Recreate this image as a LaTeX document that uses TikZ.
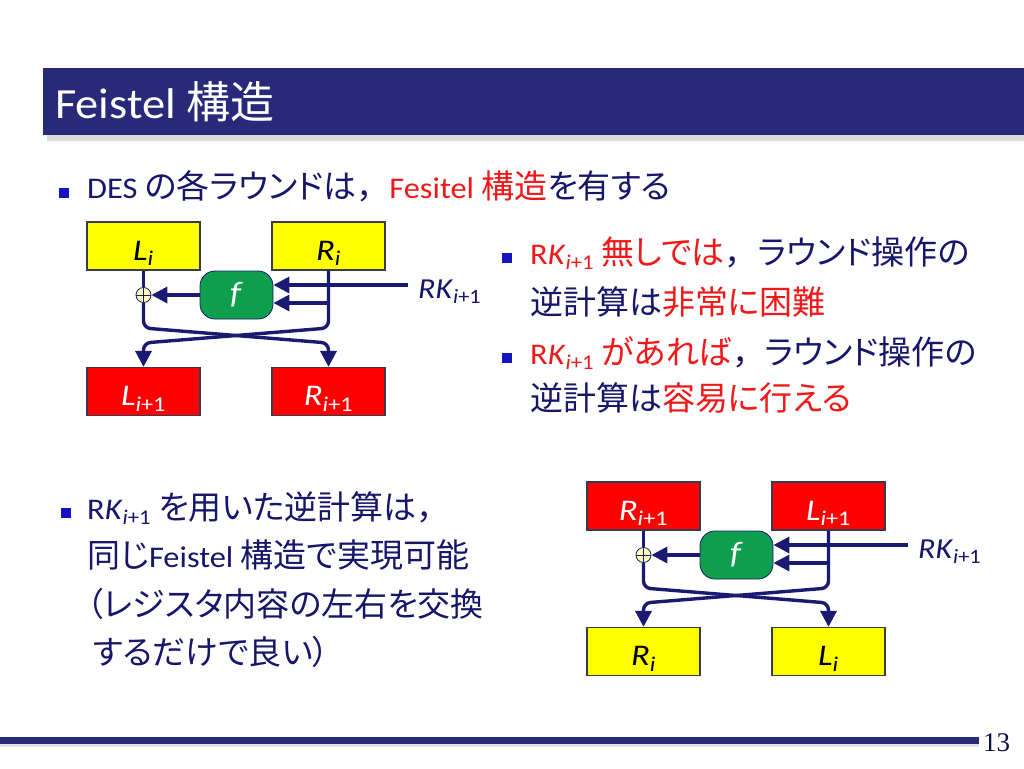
\documentclass[tikz,border=0pt]{standalone}
\usepackage{fontspec}
\setmainfont{Carlito}[FakeStretch=1.08]
\newfontfamily\diagfont{Carlito}[FakeStretch=1.15]
\newfontfamily\rkfont{Carlito}[FakeStretch=1.1]
\newfontfamily\jp{Noto Sans CJK JP}[RawFeature=+palt]
\newfontfamily\jpf{Noto Sans CJK JP}
\newfontfamily\pgnumfont{Liberation Serif}
\usetikzlibrary{arrows.meta}
\definecolor{txtnavy}{HTML}{16166A}
\definecolor{wirenavy}{HTML}{1A1A72}
\definecolor{barnavy}{HTML}{29297A}
\definecolor{tred}{HTML}{F01818}
\definecolor{mblue}{HTML}{1414C0}
\definecolor{boxred}{HTML}{FF0000}
\definecolor{boxyellow}{HTML}{FFFF00}
\definecolor{fgreen}{HTML}{0E9E4E}
\definecolor{xoryellow}{HTML}{FFFFB4}
\definecolor{boxedge}{HTML}{3A3A4A}
\newcommand\jpt[1]{{\jp\fontsize{33}{40}\selectfont #1}}
\newcommand\jcomma{{\jpf\fontsize{33}{40}\selectfont ，}}
\newcommand\bodyfont{\fontsize{30}{36}\selectfont}
\newcommand\rkb{R\textit{K}\textsubscript{\textit{i}+1}}
\tikzset{
  x=1pt, y=-1pt,
  txt/.style={anchor=base west, inner sep=0pt, text=txtnavy, font=\bodyfont},
  marker/.style={fill=mblue, minimum size=10pt, inner sep=0pt},
  box/.style={draw=boxedge, line width=1.2pt, minimum width=113pt, minimum height=48pt,
    inner sep=0pt, text height=28pt, text depth=0pt, font=\diagfont\fontsize{30}{34}\selectfont},
  ybox/.style={box, fill=boxyellow, text=black},
  rbox/.style={box, fill=boxred, text=white},
  fnode/.style={draw=wirenavy, line width=0.8pt, fill=fgreen, rounded corners=15pt,
    minimum width=73pt, minimum height=48pt, inner sep=0pt, text=white,
    font=\diagfont\fontsize{31}{34}\selectfont},
  xorc/.style={circle, draw=wirenavy, line width=0.8pt, fill=xoryellow, minimum size=15pt, inner sep=0pt},
  xline/.style={draw=wirenavy, line width=0.8pt},
  wire/.style={draw=wirenavy, line width=3.4pt, line join=round},
  arr/.style={wire, -{Triangle[length=16pt,width=16pt]}},
  rklabel/.style={anchor=base west, inner sep=0pt, text=txtnavy, font=\rkfont\fontsize{29}{32}\selectfont}
}
% #1 prefix, #2 dx, #3 dy, #4-#7 labels (TL, TR, BL, BR), #8 top style, #9 bottom style
\newcommand\feistelround[9]{%
\begin{scope}[shift={(#2,#3)}]
  \node[#8] (#1tl) at (143.5,246) {#4};
  \node[#8] (#1tr) at (328.5,246) {#5};
  \node[#9] (#1bl) at (143.5,391.5) {#6};
  \node[#9] (#1br) at (328.5,391.5) {#7};
  \node[fnode] (#1f) at (236.5,295) {\textit{f}};
  \node[xorc] (#1x) at (143.5,295) {};
  \draw[xline] (#1x.north) -- (#1x.south) (#1x.west) -- (#1x.east);
  \coordinate (#1a1) at (143.5,328);
  \coordinate (#1a2) at (328.5,343);
  \coordinate (#1b1) at (328.5,328);
  \coordinate (#1b2) at (143.5,343);
  \coordinate (#1r) at (328.5,303);
  \coordinate (#1k) at (408,285);
  \draw[wire] (#1tl) -- (#1x);
  \draw[arr] (#1f) -- (#1x);
  \draw[arr, rounded corners=7pt] (#1x.south) -- (#1a1) -- (#1a2) -- (#1br.north);
  \draw[arr, rounded corners=7pt] (#1tr.south) -- (#1b1) -- (#1b2) -- (#1bl.north);
  \draw[arr] (#1r) -- (#1r -| #1f.east);
  \draw[arr] (#1k) -- (#1k -| #1f.east);
  \node[rklabel] (#1rk) at (418,298) {\textit{RK}\textsubscript{\textit{i}+1}};
\end{scope}}
\begin{document}
\begin{tikzpicture}
\useasboundingbox (0,0) rectangle (1024,768);
\fill[white] (0,0) rectangle (1024,768);
% title bar
\fill[black!14] (47,135) rectangle (1024,141);
\fill[barnavy] (43,68) rectangle (1024,135);
\node[anchor=base west, inner sep=0pt, text=white, font=\fontsize{43}{48}\selectfont]
  (title) at (55,118) {Feistel {\jp\fontsize{44}{50}\selectfont 構造}};
% footer
\fill[black!12] (0,744) rectangle (979,747);
\fill[barnavy] (0,737) rectangle (979,744);
\node[anchor=base west, inner sep=0pt, text=txtnavy!70!black, font=\pgnumfont\fontsize{27}{30}\selectfont]
  (pg) at (983,751) {13};
% bullet 1
\node[marker] (m1) at (64,193) {};
\node[txt] (t1) at (87,198) {DES \jpt{の各ラウンドは}\jcomma\textcolor{tred}{Fesitel \jpt{構造}}\jpt{を有する}};
% right bullets
\node[marker] (m2) at (507,258) {};
\node[txt] (r1) at (530,264) {\textcolor{tred}{\rkb\ \jpt{無しでは}}\jcomma\jpt{ラウンド操作の}};
\node[txt] (r2) at (530,314) {\jpt{逆計算は\textcolor{tred}{非常に困難}}};
\node[marker] (m3) at (507,358) {};
\node[txt] (r3) at (530,364) {\textcolor{tred}{\rkb\ \jpt{があれば}}\jcomma\jpt{ラウンド操作の}};
\node[txt] (r4) at (530,410) {\jpt{逆計算は\textcolor{tred}{容易に行える}}};
% bottom-left bullet
\node[marker] (m4) at (66,513) {};
\node[txt] (b1) at (87,519) {\rkb\ \jpt{を用いた逆計算は}\jcomma};
\node[txt] (b2) at (87,567) {\jpt{同じ}Feistel \jpt{構造で実現可能}};
\node[txt] (b3) at (87,616) {\jpt{（レジスタ内容の左右を交換}};
\node[txt] (b4) at (93,664) {\jpt{するだけで良い）}};
% diagrams
\feistelround{A}{0}{0}{\textit{L}\textsubscript{\textit{i}}}{\textit{R}\textsubscript{\textit{i}}}%
  {\textit{L}\textsubscript{\textit{i}+1}}{\textit{R}\textsubscript{\textit{i}+1}}{ybox}{rbox}
\feistelround{B}{500}{260}{\textit{R}\textsubscript{\textit{i}+1}}{\textit{L}\textsubscript{\textit{i}+1}}%
  {\textit{R}\textsubscript{\textit{i}}}{\textit{L}\textsubscript{\textit{i}}}{rbox}{ybox}
\end{tikzpicture}
\end{document}
